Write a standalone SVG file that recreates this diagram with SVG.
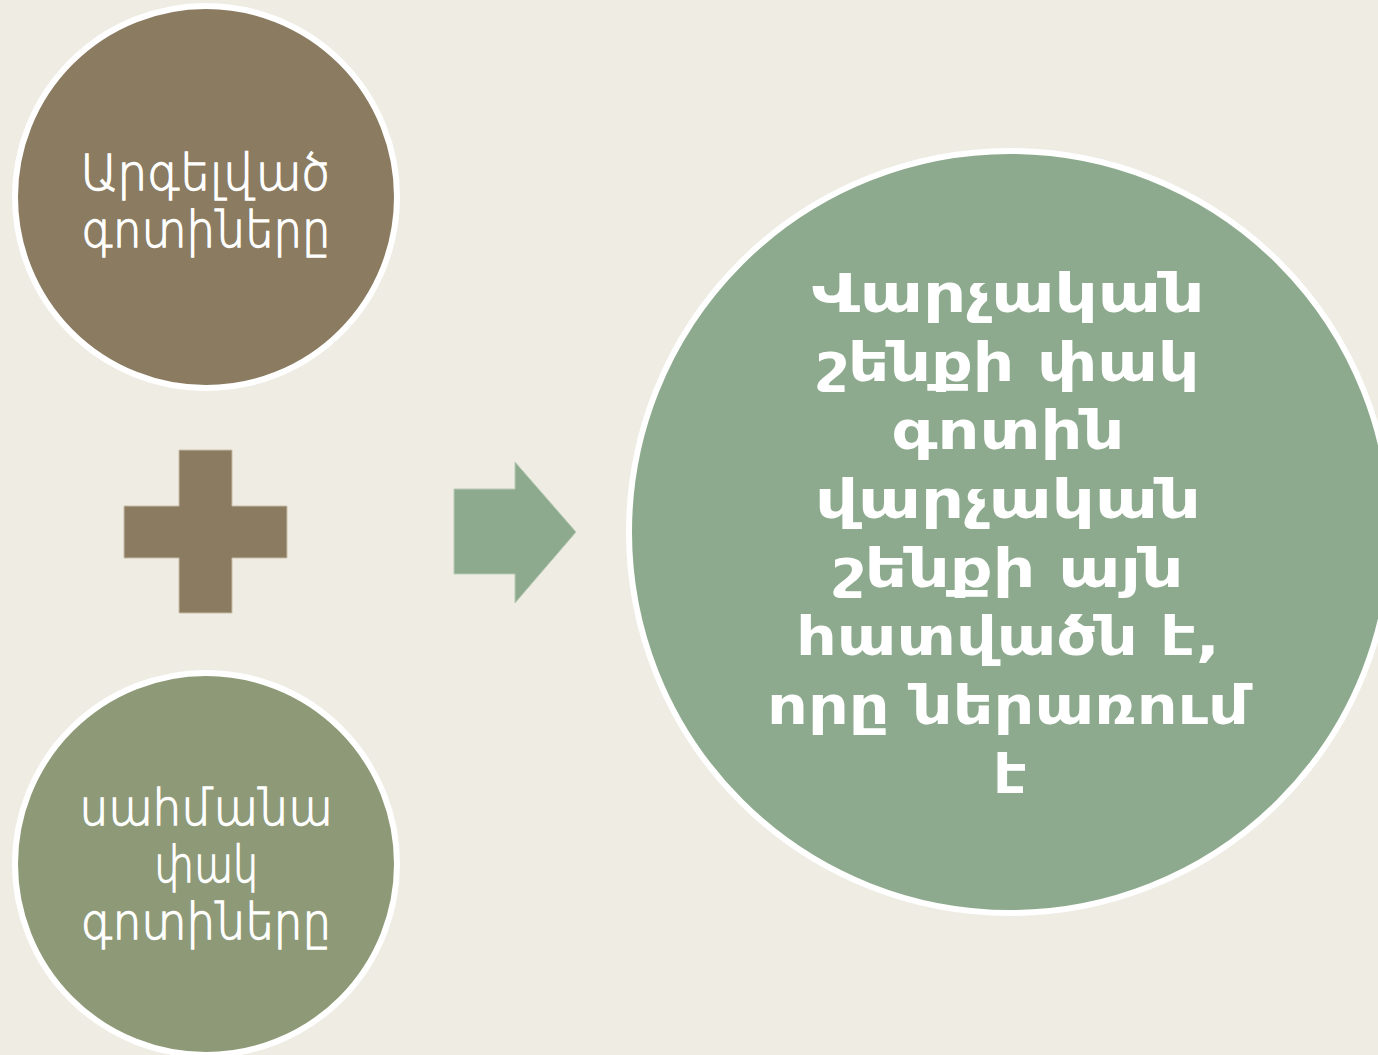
<svg xmlns="http://www.w3.org/2000/svg" width="1378" height="1055" viewBox="0 0 1378 1055">
<style>
.bg{fill:#EFECE4}
.circ{stroke:#FFFFFF;stroke-width:6}
.lt{font-family:"DejaVu Sans",sans-serif;font-weight:200;font-size:49px;fill:#FFFFFF;stroke:#FFFFFF;stroke-width:1.3;text-anchor:middle}
.bd{font-family:"DejaVu Sans",sans-serif;font-weight:700;font-size:53px;fill:#FFFFFF;text-anchor:middle}
</style>
<rect class="bg" x="0" y="0" width="1378" height="1055"/>
<g id="node-top">
<circle class="circ" cx="206" cy="197" r="191" fill="#8A7B61"/>
<text class="lt" x="206" y="190" textLength="251" lengthAdjust="spacingAndGlyphs">Արգելված</text>
<text class="lt" x="206" y="247" textLength="249" lengthAdjust="spacingAndGlyphs">գոտիները</text>
</g>
<g id="node-bottom">
<circle class="circ" cx="206" cy="864" r="191" fill="#8E9A77"/>
<text class="lt" x="206" y="825" textLength="253" lengthAdjust="spacingAndGlyphs">սահմանա</text>
<text class="lt" x="206" y="882" textLength="104" lengthAdjust="spacingAndGlyphs">փակ</text>
<text class="lt" x="206" y="939" textLength="250" lengthAdjust="spacingAndGlyphs">գոտիները</text>
</g>
<g id="plus">
<path d="M179,450 H232 V506 H287 V558 H232 V613 H179 V558 H124 V506 H179 Z" fill="#8A7B61" stroke="#C9BEA8" stroke-width="1"/>
</g>
<g id="connectors">
<path d="M454,489 H515 V462 L576,532 L515,603 V574 H454 Z" fill="#8DAA8E" stroke="#B8CBB5" stroke-width="1"/>
</g>
<g id="node-result">
<circle class="circ" cx="1010" cy="532" r="381" fill="#8DAA8E"/>
<text class="bd" x="1008" y="312" textLength="393" lengthAdjust="spacingAndGlyphs">Վարչական</text>
<text class="bd" x="1008" y="381" textLength="383" lengthAdjust="spacingAndGlyphs">շենքի փակ</text>
<text class="bd" x="1008" y="449" textLength="233" lengthAdjust="spacingAndGlyphs">գոտին</text>
<text class="bd" x="1008" y="518" textLength="386" lengthAdjust="spacingAndGlyphs">վարչական</text>
<text class="bd" x="1008" y="587" textLength="351" lengthAdjust="spacingAndGlyphs">շենքի այն</text>
<text class="bd" x="1008" y="655" textLength="424" lengthAdjust="spacingAndGlyphs">հատվածն է,</text>
<text class="bd" x="1008" y="724" textLength="482" lengthAdjust="spacingAndGlyphs">որը ներառում</text>
<text class="bd" x="1010" y="793" textLength="34" lengthAdjust="spacingAndGlyphs">է</text>
</g>
</svg>
